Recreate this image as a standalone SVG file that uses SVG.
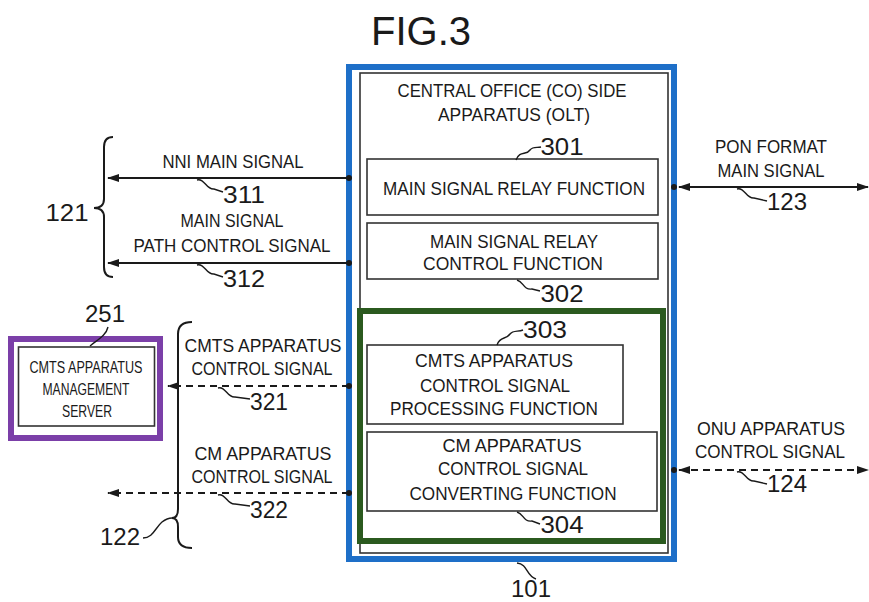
<svg xmlns="http://www.w3.org/2000/svg" width="869" height="602" viewBox="0 0 869 602">
<style>
.t{font-family:"Liberation Sans",Arial,sans-serif;font-size:19px;fill:#1a1a1a;text-anchor:middle}
.n{font-family:"Liberation Sans",Arial,sans-serif;font-size:24px;fill:#1a1a1a;text-anchor:middle}
.s{font-family:"Liberation Sans",Arial,sans-serif;font-size:17px;fill:#1a1a1a;text-anchor:middle}
.box{fill:#fff;stroke:#333;stroke-width:1.6}
.ln{stroke:#1a1a1a;stroke-width:2;fill:none}
.dl{stroke:#1a1a1a;stroke-width:2;fill:none;stroke-dasharray:7 5}
.sq{stroke:#1a1a1a;stroke-width:1.4;fill:none}
</style>
<defs>
<marker id="ah" viewBox="0 0 12 10" refX="11" refY="5" markerWidth="12" markerHeight="10" markerUnits="userSpaceOnUse" orient="auto-start-reverse">
<path d="M0,1 L12,5 L0,9 Z" fill="#1a1a1a"/>
</marker>
</defs>
<rect width="869" height="602" fill="#fff"/>
<text x="421" y="45" font-family="Liberation Sans,Arial,sans-serif" font-size="40" fill="#1a1a1a" text-anchor="middle">FIG.3</text>

<g id="olt">
<rect x="360" y="73" width="308" height="480" class="box"/>
<text class="t" x="512" y="97" textLength="229" lengthAdjust="spacingAndGlyphs">CENTRAL OFFICE (CO) SIDE</text>
<text class="t" x="514" y="121" textLength="152" lengthAdjust="spacingAndGlyphs">APPARATUS (OLT)</text>
<rect x="349" y="67" width="325" height="492" fill="none" stroke="#1E6FC8" stroke-width="6"/>
<text class="n" x="531" y="597" textLength="40" lengthAdjust="spacingAndGlyphs">101</text>
<path class="sq" d="M517,563 C528,564 526,576 536,579"/>
</g>

<g id="n301">
<rect x="367" y="159" width="291" height="56" class="box"/>
<text class="t" x="514" y="195" textLength="262" lengthAdjust="spacingAndGlyphs">MAIN SIGNAL RELAY FUNCTION</text>
<text class="n" x="562" y="155" textLength="43" lengthAdjust="spacingAndGlyphs">301</text>
<path class="sq" d="M516,160 C520,150 526,156 530,150 C533,146 537,148 541,147"/>
</g>

<g id="n302">
<rect x="367" y="223" width="291" height="56" class="box"/>
<text class="t" x="514" y="248" textLength="168" lengthAdjust="spacingAndGlyphs">MAIN SIGNAL RELAY</text>
<text class="t" x="513" y="270" textLength="180" lengthAdjust="spacingAndGlyphs">CONTROL FUNCTION</text>
<text class="n" x="562" y="302" textLength="43" lengthAdjust="spacingAndGlyphs">302</text>
<path class="sq" d="M517,280 C524,282 523,290 532,289 L540,291"/>
</g>

<g id="grp">
<rect x="360" y="311" width="303" height="230" fill="none" stroke="#2B5A1F" stroke-width="6"/>
</g>

<g id="n303">
<rect x="367" y="345" width="256" height="79" class="box"/>
<text class="t" x="494" y="367" textLength="158" lengthAdjust="spacingAndGlyphs">CMTS APPARATUS</text>
<text class="t" x="495" y="392" textLength="150" lengthAdjust="spacingAndGlyphs">CONTROL SIGNAL</text>
<text class="t" x="494" y="415" textLength="208" lengthAdjust="spacingAndGlyphs">PROCESSING FUNCTION</text>
<text class="n" x="545" y="338" textLength="44" lengthAdjust="spacingAndGlyphs">303</text>
<path class="sq" d="M497,345 C500,336 506,340 510,334 C513,330 518,332 523,330"/>
</g>

<g id="n304">
<rect x="367" y="432" width="290" height="79" class="box"/>
<text class="t" x="512" y="452" textLength="139" lengthAdjust="spacingAndGlyphs">CM APPARATUS</text>
<text class="t" x="513" y="475" textLength="150" lengthAdjust="spacingAndGlyphs">CONTROL SIGNAL</text>
<text class="t" x="513" y="500" textLength="207" lengthAdjust="spacingAndGlyphs">CONVERTING FUNCTION</text>
<text class="n" x="562" y="533" textLength="43" lengthAdjust="spacingAndGlyphs">304</text>
<path class="sq" d="M517,512 C524,514 523,522 532,521 L540,524"/>
</g>

<g id="n251">
<rect x="11" y="339" width="149" height="99" fill="#fff" stroke="#7B3FA8" stroke-width="6"/>
<rect x="18.5" y="347" width="136" height="79" class="box"/>
<text class="s" x="86" y="373" textLength="113" lengthAdjust="spacingAndGlyphs">CMTS APPARATUS</text>
<text class="s" x="86" y="395" textLength="87" lengthAdjust="spacingAndGlyphs">MANAGEMENT</text>
<text class="s" x="87" y="417" textLength="50" lengthAdjust="spacingAndGlyphs">SERVER</text>
<text class="n" x="105" y="322" textLength="40" lengthAdjust="spacingAndGlyphs">251</text>
<path class="sq" d="M108,327 C106,336 97,340 90,346"/>
</g>

<g id="connectors">
<line class="ln" x1="349" y1="178" x2="108" y2="178" marker-end="url(#ah)"/>
<line class="ln" x1="349" y1="263" x2="108" y2="263" marker-end="url(#ah)"/>
<line class="ln" x1="679" y1="187" x2="868" y2="187" marker-start="url(#ah)" marker-end="url(#ah)"/>
<line class="dl" x1="349" y1="386" x2="168" y2="386" marker-end="url(#ah)"/>
<line class="dl" x1="349" y1="493" x2="108" y2="493" marker-end="url(#ah)"/>
<line class="dl" x1="679" y1="470" x2="868" y2="470" marker-start="url(#ah)" marker-end="url(#ah)"/>
<g fill="#1a1a1a">
<circle cx="349" cy="178" r="3"/>
<circle cx="349" cy="263" r="3"/>
<circle cx="349" cy="386" r="3"/>
<circle cx="349" cy="493" r="3"/>
<circle cx="674" cy="187" r="3"/>
<circle cx="674" cy="470" r="3"/>
</g>
</g>

<g id="labels-left">
<text class="t" x="233" y="168" textLength="141" lengthAdjust="spacingAndGlyphs">NNI MAIN SIGNAL</text>
<text class="n" x="244" y="203" textLength="42" lengthAdjust="spacingAndGlyphs">311</text>
<path class="sq" d="M197,180 C205,178 206,190 214,189 L223,192"/>
<text class="t" x="232" y="227" textLength="103" lengthAdjust="spacingAndGlyphs">MAIN SIGNAL</text>
<text class="t" x="232" y="252" textLength="197" lengthAdjust="spacingAndGlyphs">PATH CONTROL SIGNAL</text>
<text class="n" x="244" y="287" textLength="42" lengthAdjust="spacingAndGlyphs">312</text>
<path class="sq" d="M197,265 C205,263 206,275 214,274 L223,277"/>
<path class="ln" stroke-width="1.6" d="M113,137 Q104,137 104,147 L104,199 Q104,208 94,208 Q104,208 104,217 L104,267 Q104,277 113,277"/>
<text class="n" x="67" y="221" textLength="43" lengthAdjust="spacingAndGlyphs">121</text>

<text class="t" x="263" y="352" textLength="157" lengthAdjust="spacingAndGlyphs">CMTS APPARATUS</text>
<text class="t" x="262" y="375" textLength="141" lengthAdjust="spacingAndGlyphs">CONTROL SIGNAL</text>
<text class="n" x="269" y="410" textLength="38" lengthAdjust="spacingAndGlyphs">321</text>
<path class="sq" d="M218,388 C226,386 227,398 235,397 L250,399"/>
<text class="t" x="263" y="460" textLength="137" lengthAdjust="spacingAndGlyphs">CM APPARATUS</text>
<text class="t" x="262" y="483" textLength="141" lengthAdjust="spacingAndGlyphs">CONTROL SIGNAL</text>
<text class="n" x="269" y="518" textLength="38" lengthAdjust="spacingAndGlyphs">322</text>
<path class="sq" d="M218,495 C226,493 227,505 235,504 L250,506"/>
<path class="ln" stroke-width="1.6" d="M192,322 Q178,322 178,334 L178,509 Q178,518 172,518 Q178,518 178,527 L178,537 Q178,548 192,548"/>
<text class="n" x="120" y="545" textLength="40" lengthAdjust="spacingAndGlyphs">122</text>
<path class="sq" d="M143,538 C153,538 155,528 162,522 C166,519 169,518 172,518"/>
</g>

<g id="labels-right">
<text class="t" x="771" y="153" textLength="112" lengthAdjust="spacingAndGlyphs">PON FORMAT</text>
<text class="t" x="771" y="177" textLength="107" lengthAdjust="spacingAndGlyphs">MAIN SIGNAL</text>
<text class="n" x="787" y="210" textLength="40" lengthAdjust="spacingAndGlyphs">123</text>
<path class="sq" d="M737,189 C745,187 746,199 754,198 L767,201"/>
<text class="t" x="771" y="435" textLength="148" lengthAdjust="spacingAndGlyphs">ONU APPARATUS</text>
<text class="t" x="770" y="458" textLength="150" lengthAdjust="spacingAndGlyphs">CONTROL SIGNAL</text>
<text class="n" x="787" y="492" textLength="40" lengthAdjust="spacingAndGlyphs">124</text>
<path class="sq" d="M737,472 C745,470 746,482 754,481 L767,484"/>
</g>
</svg>
